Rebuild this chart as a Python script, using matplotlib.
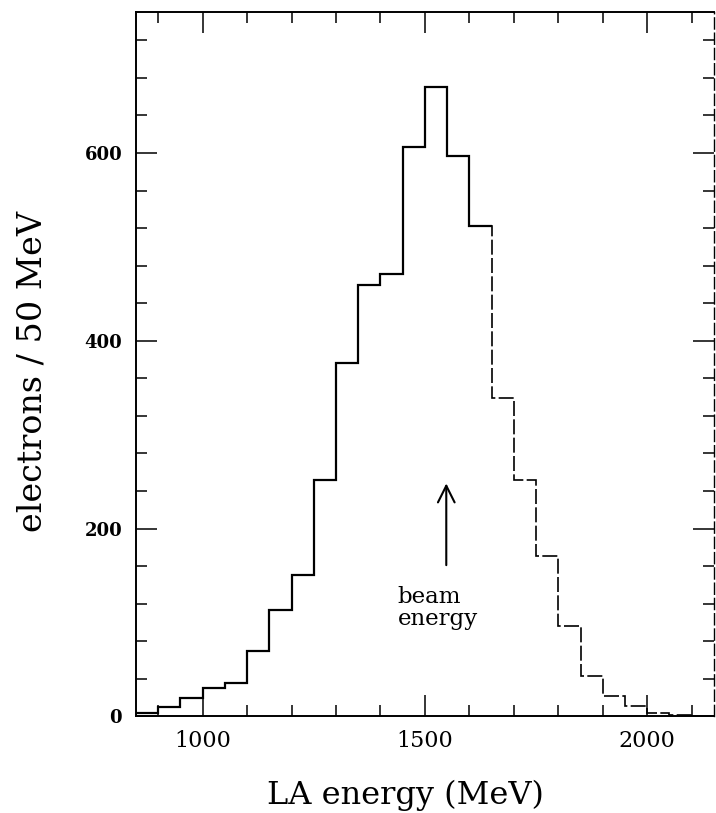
import numpy as np
import matplotlib
matplotlib.use("Agg")
import matplotlib.pyplot as plt
from matplotlib.ticker import MultipleLocator

# bin edges (MeV) and counts per 50 MeV bin
bin_edges = [850, 900, 950, 1000, 1050, 1100, 1150, 1200, 1250, 1300, 1350, 1400,
             1450, 1500, 1550, 1600, 1650, 1700, 1750, 1800, 1850, 1900, 1950,
             2000, 2050, 2100]
counts = [3, 10, 19, 30, 35, 70, 113, 151, 252, 376, 459, 471,
          606, 670, 597, 522, 339, 252, 171, 96, 43, 22, 11, 3, 1]

x_ticks = [1000, 1500, 2000]
y_ticks = [0, 200, 400, 600]
beam_energy = 1548
split = 16  # the scanned tail from here on is printed faint / broken

plt.rcParams['font.family'] = ['DejaVu Serif']

fig = plt.figure(figsize=(7.16, 8.13), dpi=100)
ax = fig.add_axes([0.19, 0.119, 0.807, 0.866])

ax.stairs(counts[:split], bin_edges[:split + 1], baseline=None,
          color='black', lw=1.6)
ax.stairs(counts[split - 1:], bin_edges[split - 1:], baseline=None,
          color='black', lw=1.2, linestyle=(0, (9, 2)))

ax.annotate('', xy=(beam_energy, 251), xytext=(beam_energy, 158),
            arrowprops=dict(arrowstyle='->', color='black', lw=1.5,
                            mutation_scale=30))
ax.text(1438, 139, 'beam\nenergy', fontsize=16.5, ha='left', va='top',
        linespacing=1.0)

ax.set_xlim(850, 2150)
ax.set_ylim(0, 750)
ax.set_xticks(x_ticks)
ax.set_yticks(y_ticks)
ax.xaxis.set_minor_locator(MultipleLocator(100))
ax.yaxis.set_minor_locator(MultipleLocator(40))
ax.tick_params(which='both', direction='in', top=True, right=True, width=1.1)
ax.tick_params(which='major', length=15)
ax.tick_params(which='minor', length=8)
ax.tick_params(axis='x', labelsize=16, pad=10)
ax.tick_params(axis='y', labelsize=13, pad=10)
for lab in ax.get_yticklabels():
    lab.set_fontweight('bold')
for s in ax.spines.values():
    s.set_linewidth(1.4)
ax.spines['right'].set_linewidth(1.0)
ax.spines['right'].set_linestyle((0, (8, 3)))

ax.set_xlabel('LA energy (MeV)', fontsize=23, labelpad=20, x=0.467)
ax.set_ylabel('electrons / 50 MeV', fontsize=24, labelpad=26, y=0.49)

fig.savefig('out.png', dpi=100)
